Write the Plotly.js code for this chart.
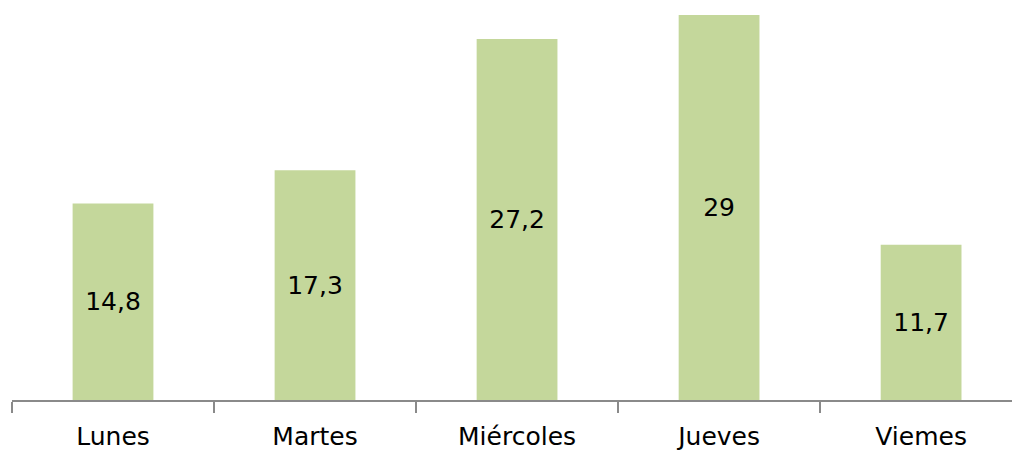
<!DOCTYPE html>
<html>
<head>
<meta charset="utf-8">
<script src="https://cdn.plot.ly/plotly-3.0.1.min.js"></script>
<style>html,body{margin:0;padding:0;background:#fff;}#chart{width:1012px;height:451px;}</style>
</head>
<body>
<div id="chart"></div>
<script>
const days = ['Lunes', 'Martes', 'Miércoles', 'Jueves', 'Viemes'];
const values = [14.8, 17.3, 27.2, 29, 11.7];
const labels = values.map(v => String(v).replace('.', ','));

const trace = {
  type: 'bar',
  x: days,
  y: values,
  text: labels,
  textposition: 'inside',
  insidetextanchor: 'middle',
  textangle: 0,
  textfont: {family: 'DejaVu Sans', size: 25, color: '#000'},
  marker: {color: '#C4D79B'},
  hoverinfo: 'skip'
};

const layout = {
  width: 1012, height: 451,
  margin: {l: 12, r: 0, t: 15, b: 51},
  paper_bgcolor: '#fff', plot_bgcolor: '#fff',
  bargap: 0.6,
  showlegend: false,
  font: {family: 'DejaVu Sans', color: '#000'},
  xaxis: {
    range: [-0.5, 4.45],
    showline: true, linecolor: '#8a8a8a', linewidth: 2,
    ticks: 'outside', tickson: 'boundaries', ticklen: 11, tickwidth: 2, tickcolor: '#8a8a8a',
    ticklabelstandoff: 13,
    tickfont: {family: 'DejaVu Sans', size: 25, color: '#000'},
    showgrid: false, zeroline: false, fixedrange: true
  },
  yaxis: {
    range: [0, 29], visible: false, showgrid: false, zeroline: false, fixedrange: true
  }
};

Plotly.newPlot('chart', [trace], layout, {displayModeBar: false, staticPlot: true});
</script>
</body>
</html>
